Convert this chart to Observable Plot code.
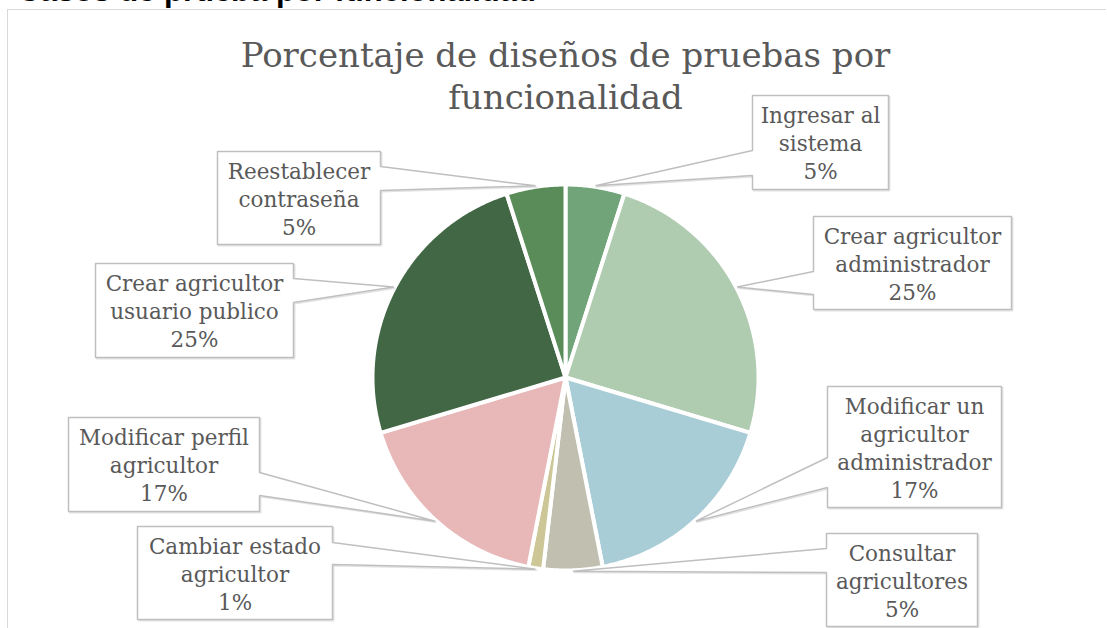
<!DOCTYPE html>
<html>
<head>
<meta charset="utf-8">
<script src="https://cdn.jsdelivr.net/npm/d3@7"></script>
<script src="https://cdn.jsdelivr.net/npm/@observablehq/plot@0.6"></script>
<style>
  html, body { margin: 0; padding: 0; background: #fff; }
  #wrap { position: relative; width: 1107px; height: 628px; overflow: hidden; }
  #frame { position: absolute; left: 7px; top: 9px; width: 1099px; height: 640px;
           border-top: 1.5px solid #d9d9d9; border-left: 1.5px solid #d9d9d9; box-sizing: border-box; }
  #chart { position: absolute; left: 0; top: 0; }
</style>
</head>
<body>
<div id="wrap"><div id="frame"></div><div id="chart"></div></div>
<script>
// ---- data ----
const categories = [
  "Ingresar al sistema",
  "Crear agricultor administrador",
  "Modificar un agricultor administrador",
  "Consultar agricultores",
  "Cambiar estado agricultor",
  "Modificar perfil agricultor",
  "Crear agricultor usuario publico",
  "Reestablecer contraseña"
];
const counts = [4, 20, 14, 4, 1, 14, 20, 4];
const chartTitle = "Porcentaje de diseños de pruebas por\nfuncionalidad";
const pageHeading = "Casos de prueba por funcionalidad";

// ---- styles / layout ----
const colors = ["#71a579", "#afcbb0", "#a9cdd6", "#c0bfb0", "#cdc797", "#e8b8b9", "#426745", "#5a8c5a"];
const W = 1107, H = 628;
const pieLayout = {cx: 565, cy: 377, r: 193};
// label boxes: [x0, y0, x1, y1], wedge side, wedge base [y0, y1]
const boxLayout = [
  {box: [752, 95, 888, 189],  side: "left",  wedge: [150, 175]},
  {box: [813, 216, 1011, 309], side: "left",  wedge: [271, 294]},
  {box: [827, 386, 1001, 507], side: "left",  wedge: [457, 487]},
  {box: [826, 533, 977, 626], side: "left",  wedge: [548, 572]},
  {box: [137, 526, 332, 619], side: "right", wedge: [542, 564]},
  {box: [68, 417, 259, 511],  side: "right", wedge: [472, 495]},
  {box: [95, 263, 293, 357],  side: "right", wedge: [278, 302]},
  {box: [217, 151, 380, 244], side: "right", wedge: [166, 190]}
];
const fontFamily = "DejaVu Serif";
const labelFontSize = 21.5;
const textColor = "#595959";

// ---- derived ----
const total = d3.sum(counts);
const arcs = d3.pie().sort(null).value(d => d)(counts);
const {cx, cy, r} = pieLayout;
const pt = (a, rad) => ({x: cx + rad * Math.sin(a), y: cy - rad * Math.cos(a)});

function wrap(s, max = 16) {
  const words = s.split(" "); const lines = []; let cur = "";
  for (const w of words) {
    if (cur && (cur + " " + w).length > max) { lines.push(cur); cur = w; }
    else cur = cur ? cur + " " + w : w;
  }
  if (cur) lines.push(cur);
  return lines;
}

const sliceMarks = arcs.map((a, i) => {
  const pts = [{x: cx, y: cy}];
  const n = Math.max(4, Math.ceil((a.endAngle - a.startAngle) / 0.01));
  for (let k = 0; k <= n; k++) pts.push(pt(a.startAngle + (a.endAngle - a.startAngle) * k / n, r));
  pts.push({x: cx, y: cy});
  return Plot.line(pts, {x: "x", y: "y", fill: colors[i], stroke: "white", strokeWidth: 4, strokeLinejoin: "round", curve: "linear"});
});

const labels = arcs.map((a, i) => {
  const L = boxLayout[i];
  const [x0, y0, x1, y1] = L.box;
  const tip = pt((a.startAngle + a.endAngle) / 2, r + 1);
  let poly;
  if (L.side === "left") {
    poly = [{x: x0, y: y0}, {x: x1, y: y0}, {x: x1, y: y1}, {x: x0, y: y1},
            {x: x0, y: L.wedge[1]}, tip, {x: x0, y: L.wedge[0]}, {x: x0, y: y0}];
  } else {
    poly = [{x: x0, y: y0}, {x: x1, y: y0}, {x: x1, y: L.wedge[0]}, tip, {x: x1, y: L.wedge[1]},
            {x: x1, y: y1}, {x: x0, y: y1}, {x: x0, y: y0}];
  }
  const pct = Math.round(counts[i] / total * 100) + "%";
  const text = [...wrap(categories[i]), pct].join("\n");
  return {poly, text, x: (x0 + x1) / 2, y: (y0 + y1) / 2};
});

const labelMarks = labels.flatMap(l => [
  Plot.line(l.poly.map(p => ({x: p.x + 1.2, y: p.y + 1.2})), {x: "x", y: "y", stroke: "#e3e3e3", strokeWidth: 1.5, fill: "none"}),
  Plot.line(l.poly, {x: "x", y: "y", fill: "white", stroke: "#bfbfbf", strokeWidth: 1.5, strokeLinejoin: "miter"})
]);

const plot = Plot.plot({
  width: W, height: H,
  margin: 0,
  x: {domain: [0, W], range: [0, W], axis: null},
  y: {domain: [0, H], range: [0, H], axis: null},
  style: {fontFamily, background: "transparent"},
  marks: [
    Plot.text([pageHeading], {x: () => 17, y: () => 0.5, text: d => d, textAnchor: "start", lineAnchor: "bottom",
      fontFamily: "Liberation Sans", fontWeight: "bold", fontSize: 31, fill: "#000"}),
    ...sliceMarks,
    ...labelMarks,
    Plot.text(labels, {x: "x", y: "y", text: "text", textAnchor: "middle", lineAnchor: "middle",
      fontSize: labelFontSize, lineHeight: 28 / labelFontSize, fill: textColor, fontFamily}),
    Plot.text([chartTitle], {x: () => 565, y: () => 74, text: d => d, textAnchor: "middle", lineAnchor: "middle",
      fontSize: 34, lineHeight: 42 / 34, fill: textColor, fontFamily})
  ]
});
document.getElementById("chart").appendChild(plot);
</script>
</body>
</html>
